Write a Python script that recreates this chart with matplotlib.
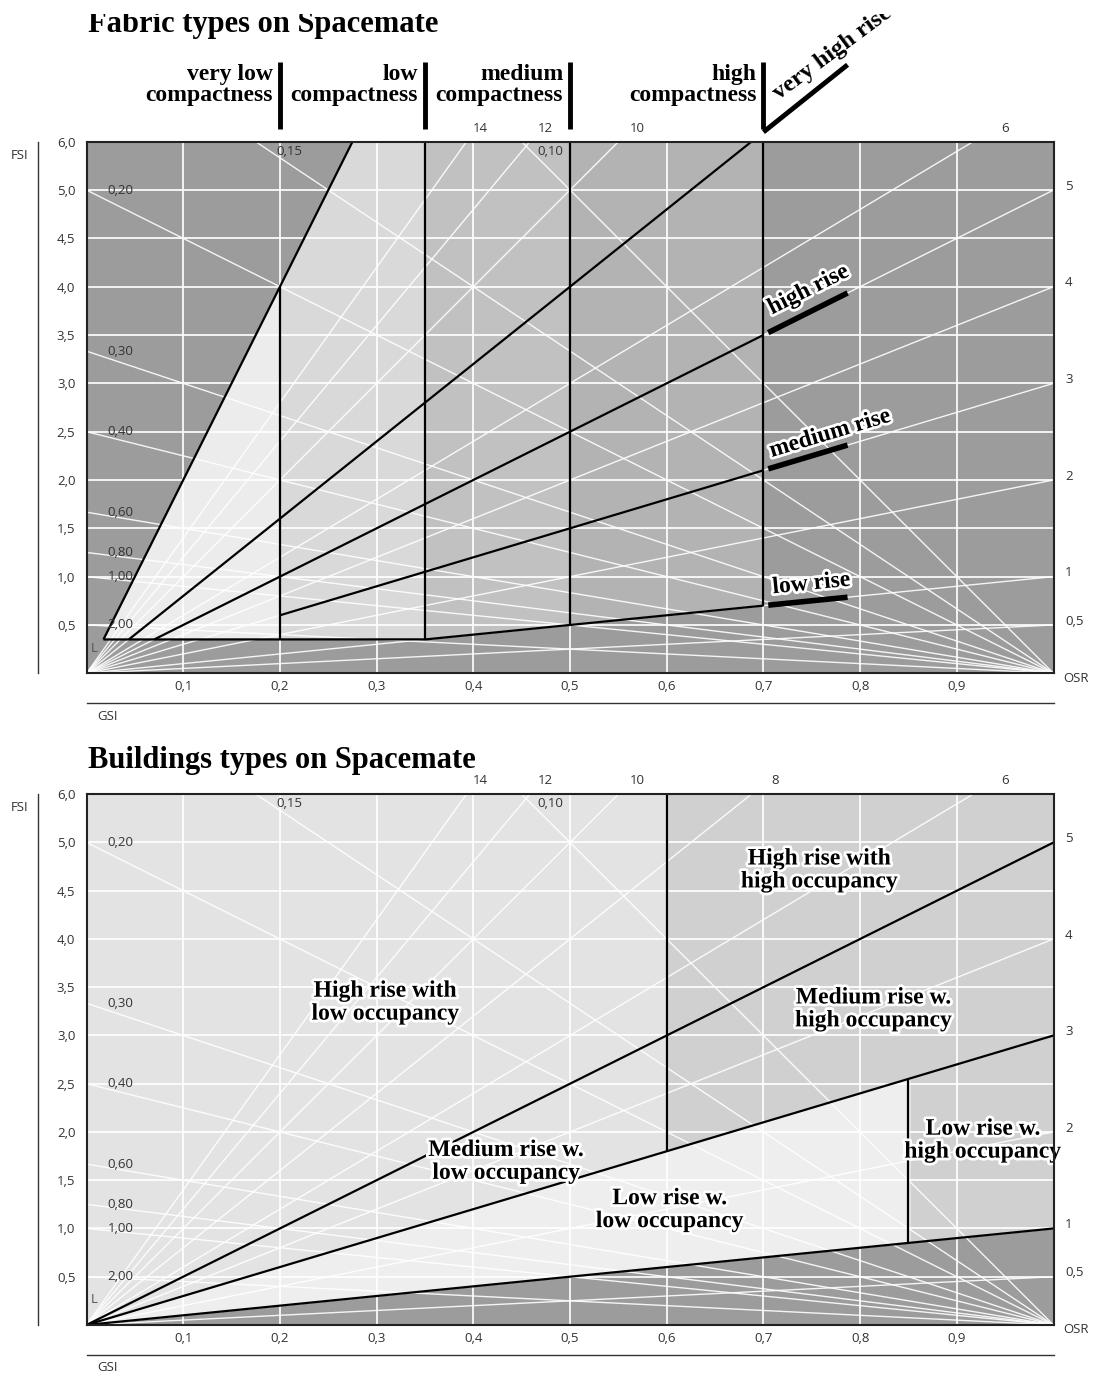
import numpy as np
import matplotlib
matplotlib.use("Agg")
import matplotlib.pyplot as plt
import matplotlib.patheffects as pe
from matplotlib.patches import Rectangle

# --- Spacemate reference lines ---
floors = [0.5, 1, 2, 3, 4, 5, 6, 8, 10, 12, 14]            # L lines  FSI = L * GSI
osr_values = [0.10, 0.15, 0.20, 0.30, 0.40, 0.60, 0.80, 1.00, 2.00]  # FSI = (1 - GSI) / OSR
osr_labels = ['0,10', '0,15', '0,20', '0,30', '0,40', '0,60', '0,80', '1,00', '2,00']
right_floors = [0.5, 1, 2, 3, 4, 5]
right_floor_labels = ['0,5', '1', '2', '3', '4', '5']
top_floors_fabric = [14, 12, 10, 6]
top_floors_building = [14, 12, 10, 8, 6]

gsi_ticks = [0.1, 0.2, 0.3, 0.4, 0.5, 0.6, 0.7, 0.8, 0.9]
gsi_labels = ['0,1', '0,2', '0,3', '0,4', '0,5', '0,6', '0,7', '0,8', '0,9']
fsi_grid = [0.5, 1.0, 1.5, 2.0, 2.5, 3.0, 3.5, 4.0, 4.5, 5.0]
fsi_ticks = [0.5, 1.0, 1.5, 2.0, 2.5, 3.0, 3.5, 4.0, 4.5, 5.0, 5.5]
fsi_labels = ['0,5', '1,0', '1,5', '2,0', '2,5', '3,0', '3,5', '4,0', '4,5', '5,0', '6,0']
FSI_MAX = 5.5

# --- fabric types ---
compact_gsi = [0.2, 0.35, 0.5, 0.7]
compact_names = ['very low\ncompactness', 'low\ncompactness',
                 'medium\ncompactness', 'high\ncompactness']
compact_colors = ['#ececec', '#d9d9d9', '#c1c1c1', '#b3b3b3']
l_max = 20          # steepest line bounding very low compactness
fsi_min = 0.35      # floor of the fabric zone
rise_floors = [1, 3, 5]
rise_names = ['low rise', 'medium rise', 'high rise']
very_high_floor = 8

# --- building types ---
bld_floors = [1, 3, 5]
occ_split_high = 0.6    # high / medium rise: low vs high occupancy
occ_split_low = 0.85    # low rise: low vs high occupancy
bld_names = ['High rise with\nlow occupancy', 'High rise with\nhigh occupancy',
             'Medium rise w.\nhigh occupancy', 'Medium rise w.\nlow occupancy',
             'Low rise w.\nlow occupancy', 'Low rise w.\nhigh occupancy']
bld_pos = [(0.309, 3.34), (0.758, 4.71), (0.814, 3.27), (0.434, 1.69),
           (0.603, 1.19), (0.927, 1.91)]

DARK = '#9c9c9c'
serif = 'Liberation Serif'
small = dict(fontsize=9.5, color='#333333', family='Open Sans')
halo = [pe.withStroke(linewidth=4, foreground='white')]

fig = plt.figure(figsize=(10.94, 13.76), dpi=100)
ax1 = fig.add_axes([0.0791, 0.5107, 0.8839, 0.3863])
ax2 = fig.add_axes([0.0791, 0.0371, 0.8839, 0.3857])


def setup(ax, top_floors, face):
    ax.set_xlim(0, 1)
    ax.set_ylim(0, FSI_MAX)
    ax.set_facecolor(face)
    ax.set_xticks(gsi_ticks, gsi_labels)
    ax.set_yticks(fsi_ticks, fsi_labels)
    ax.tick_params(axis='x', length=0, pad=5)
    ax.tick_params(axis='y', length=0, pad=8)
    for lab in ax.get_xticklabels() + ax.get_yticklabels():
        lab.set_fontsize(9.5)
        lab.set_color('#333333')
        lab.set_family('Open Sans')
    for s in ax.spines.values():
        s.set_color('#222222')
        s.set_linewidth(1.5)
        s.set_zorder(6)

    # white grid and reference lines
    for g in gsi_ticks:
        ax.axvline(g, color='white', lw=1.3, alpha=0.95, zorder=2)
    for f in fsi_grid:
        ax.axhline(f, color='white', lw=1.3, alpha=0.95, zorder=2)
    xs = np.array([0.0, 1.0])
    for L in floors:
        ax.plot(xs, L * xs, color='white', lw=1.0, alpha=0.9, zorder=2)
    for osr in osr_values:
        ax.plot(xs, (1 - xs) / osr, color='white', lw=1.0, alpha=0.9, zorder=2)

    # labels of reference lines
    for osr, lab in zip(osr_values, osr_labels):
        if 1 / osr <= FSI_MAX:
            ax.text(0.022, 1 / osr, lab, ha='left', va='center', zorder=5, **small)
        else:
            ax.text(1 - osr * 5.4 + 0.006, 5.4, lab, ha='left', va='center', zorder=5, **small)
    ty = ax.get_yaxis_transform()
    for L, lab in zip(right_floors, right_floor_labels):
        ax.text(1.012, L + 0.04, lab, transform=ty, ha='left', va='center', **small)
    for L in top_floors:
        ax.text(5.7 / L, 5.64, str(L), ha='center', va='center', clip_on=False, **small)
    ax.text(0.004, 0.26, 'L', ha='left', va='center', zorder=5,
            fontsize=9.5, color='#555555', family='Open Sans')
    ax.text(1.010, -0.009, 'OSR', transform=ax.transAxes, ha='left', va='center', **small)
    ax.text(-0.0688, 0.975, 'FSI', transform=ax.transAxes, ha='center', va='center', **small)
    ax.text(0.011, -0.081, 'GSI', transform=ax.transAxes, ha='left', va='center', **small)
    ax.plot([-0.0502, -0.0502], [0, 1], transform=ax.transAxes, clip_on=False,
            color='#333333', lw=1.0)
    ax.plot([0, 1], [-0.056, -0.056], transform=ax.transAxes, clip_on=False,
            color='#333333', lw=1.0)


def screen_angle(ax, L):
    p0 = ax.transData.transform((0, 0))
    p1 = ax.transData.transform((1, L))
    return np.degrees(np.arctan2(p1[1] - p0[1], p1[0] - p0[0]))


# ================= Fabric types =================
setup(ax1, top_floors_fabric, DARK)

lower = lambda x: np.maximum(fsi_min, x)
upper = lambda x: np.minimum(FSI_MAX, l_max * x)
starts = [fsi_min / l_max] + compact_gsi[:-1]
for a, b, col in zip(starts, compact_gsi, compact_colors):
    x = np.linspace(a, b, 300)
    ax1.fill_between(x, lower(x), upper(x), color=col, lw=0, zorder=1)

blk = dict(color='black', lw=1.6, zorder=3, solid_capstyle='butt')
x = np.linspace(fsi_min / l_max, compact_gsi[-1], 300)
ax1.plot(x, lower(x), **blk)
ax1.plot([fsi_min / l_max, FSI_MAX / l_max], [fsi_min, FSI_MAX], **blk)
ax1.plot([fsi_min / very_high_floor, FSI_MAX / very_high_floor], [fsi_min, FSI_MAX], **blk)
ax1.plot([fsi_min / 5, compact_gsi[-1]], [fsi_min, 5 * compact_gsi[-1]], **blk)
ax1.plot([compact_gsi[0], compact_gsi[-1]], [3 * compact_gsi[0], 3 * compact_gsi[-1]], **blk)
ax1.plot([compact_gsi[0]] * 2, [fsi_min, l_max * compact_gsi[0]], **blk)
for g in compact_gsi[1:]:
    ax1.plot([g, g], [lower(g), FSI_MAX], **blk)

# compactness labels above the panel
for g, name in zip(compact_gsi, compact_names):
    ax1.plot([g, g], [5.63, 6.32], color='black', lw=3.5, clip_on=False,
             solid_capstyle='butt')
    ax1.annotate(name, xy=(g, FSI_MAX), xytext=(-5, 26), textcoords='offset points',
                 ha='right', va='bottom', fontsize=17, weight='bold', family=serif,
                 linespacing=1.0, annotation_clip=False)

# rise labels right of the panel
x0, x1 = 0.705, 0.787
offsets = {1: (3.5, 8.5), 3: (2.5, 8.5), 5: (2.7, 13)}
for L, name in zip(rise_floors, rise_names):
    ax1.plot([x0, x1], [L * x0, L * x1], color='black', lw=4, zorder=4,
             solid_capstyle='butt')
    ax1.annotate(name, xy=(x0, L * x0), xytext=offsets[L], textcoords='offset points',
                 ha='left', va='baseline', rotation=screen_angle(ax1, L),
                 rotation_mode='anchor', fontsize=17, weight='bold', family=serif,
                 path_effects=halo, zorder=5)
ax1.plot([compact_gsi[-1], x1], [very_high_floor * compact_gsi[-1], very_high_floor * x1],
         color='black', lw=3.5, clip_on=False, solid_capstyle='butt')
ax1.annotate('very high rise', xy=(compact_gsi[-1], very_high_floor * compact_gsi[-1]),
             xytext=(11, 23), textcoords='offset points', ha='left', va='baseline',
             rotation=screen_angle(ax1, very_high_floor) - 2, rotation_mode='anchor',
             fontsize=17.5, weight='bold', family=serif, annotation_clip=False)

fig.text(88 / 1094, 1 - 32 / 1376, 'Fabric types on Spacemate', ha='left', va='baseline',
         fontsize=22, weight='bold', family=serif)

# ================= Building types =================
setup(ax2, top_floors_building, '#e3e3e3')
x = np.linspace(0, 1, 400)
ax2.fill_between(x, 0, x, color=DARK, lw=0, zorder=1)
m = x <= occ_split_low
ax2.fill_between(x[m], x[m], 3 * x[m], color='#eeeeee', lw=0, zorder=1)
m = x >= occ_split_low
ax2.fill_between(x[m], x[m], 3 * x[m], color='#d0d0d0', lw=0, zorder=1)
m = x >= occ_split_high
ax2.fill_between(x[m], 3 * x[m], FSI_MAX, color='#d0d0d0', lw=0, zorder=1)

for L in bld_floors:
    ax2.plot([0, 1], [0, L], **blk)
ax2.plot([occ_split_high] * 2, [3 * occ_split_high, FSI_MAX], **blk)
ax2.plot([occ_split_low] * 2, [occ_split_low, 3 * occ_split_low], **blk)

for name, (gx, fy) in zip(bld_names, bld_pos):
    ax2.text(gx, fy, name, ha='center', va='center', fontsize=17, weight='bold',
             family=serif, linespacing=1.12, path_effects=halo, zorder=5)

fig.text(88 / 1094, 1 - 768 / 1376, 'Buildings types on Spacemate', ha='left',
         va='baseline', fontsize=22, weight='bold', family=serif)

# the source image is cropped just above the first title
fig.patches.append(Rectangle((0, 1 - 14 / 1376), 1, 14 / 1376, transform=fig.transFigure,
                             facecolor='white', edgecolor='none', zorder=10))

fig.savefig('out.png', dpi=100)
